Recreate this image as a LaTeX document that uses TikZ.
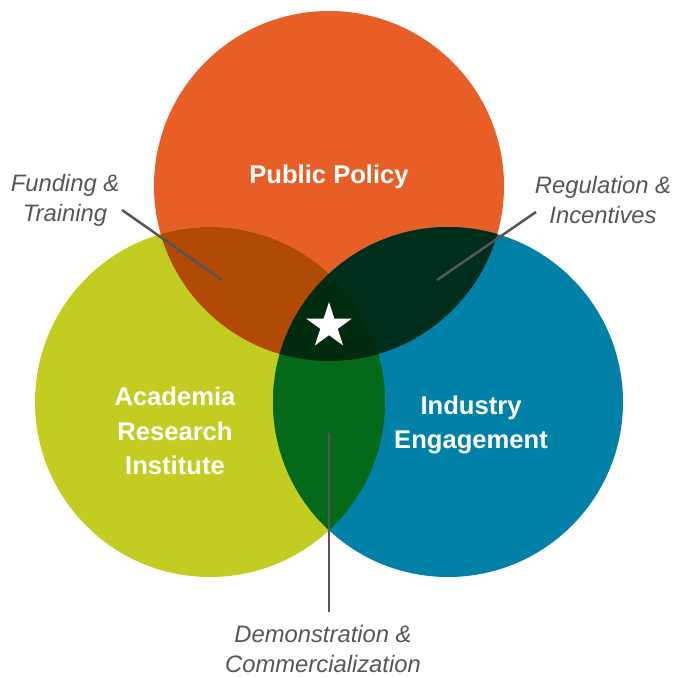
\documentclass[tikz,border=0pt]{standalone}
\usepackage{fontspec}
\setmainfont{Liberation Sans}
\usetikzlibrary{shapes.geometric}
\definecolor{cOrange}{HTML}{E85E27}
\definecolor{cGreen}{HTML}{C3CC20}
\definecolor{cBlue}{HTML}{0180A8}
\definecolor{cOG}{HTML}{B04A05}
\definecolor{cOB}{HTML}{002E1D}
\definecolor{cGB}{HTML}{046A19}
\definecolor{cAll}{HTML}{002B0E}
\definecolor{cText}{HTML}{555658}
\tikzset{
  title/.style={text=white, font=\fontsize{25.6}{34.5}\selectfont\bfseries, align=center},
  label/.style={text=cText, font=\fontsize{23.8}{30}\selectfont\itshape, align=center, inner sep=0pt},
  leader/.style={draw=cText, line width=2.5pt},
}
\begin{document}
\begin{tikzpicture}[x=1pt,y=-1pt]
\useasboundingbox (0,0) rectangle (675,677);
\def\R{175}
\coordinate (cT) at (329,186);
\coordinate (cL) at (210,402);
\coordinate (cR) at (448,402);
\fill[cOrange] (cT) circle (\R);
\fill[cGreen] (cL) circle (\R);
\fill[cBlue] (cR) circle (\R);
\begin{scope}
  \clip (cT) circle (\R);
  \fill[cOG] (cL) circle (\R);
  \fill[cOB] (cR) circle (\R);
\end{scope}
\begin{scope}
  \clip (cL) circle (\R);
  \fill[cGB] (cR) circle (\R);
  \clip (cR) circle (\R);
  \fill[cAll] (cT) circle (\R);
\end{scope}
\node[title] (pp) at (329,177) {Public Policy};
\node[title] (ari) at (175,431) {Academia\\Research\\Institute};
\node[title] (ie) at (471,425) {Industry\\Engagement};
\node[star, star points=5, star point ratio=2.618, fill=white, minimum size=48, inner sep=0] (st) at (329,326) {};
\node[label] (ft) at (65,200) {Funding \&\\Training};
\node[label] (ri) at (603,200) {Regulation \&\\Incentives};
\node[label] (dc) at (323,649) {Demonstration \&\\Commercialization};
\coordinate (fa) at (122,210);
\coordinate (fb) at (222,280);
\coordinate (ra) at (536,212);
\coordinate (rb) at (437,280);
\coordinate (da) at (329,433);
\coordinate (db) at (329,612);
\draw[leader] (fa) -- (fb);
\draw[leader] (ra) -- (rb);
\draw[leader] (da) -- (db);
\end{tikzpicture}
\end{document}
